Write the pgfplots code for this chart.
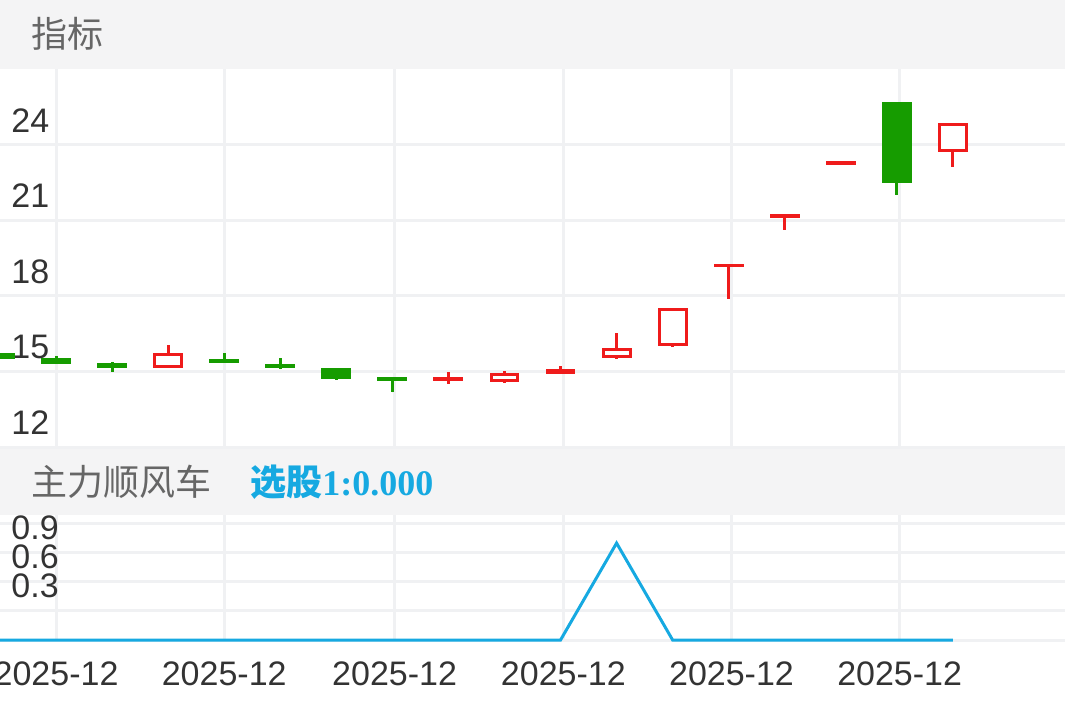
\documentclass[border=0pt]{standalone}
\usepackage{pgfplots}
\pgfplotsset{compat=1.18}
\usepgfplotslibrary{statistics}
\usepackage{fontspec}
\setmainfont{Liberation Sans}
\newfontfamily\cjk{Noto Sans CJK SC}
\newfontfamily\tnr{Liberation Serif}
\definecolor{upred}{HTML}{EF1B1B}
\definecolor{downgreen}{HTML}{169C00}
\definecolor{sigblue}{HTML}{16A9E1}
\definecolor{gridgray}{HTML}{F0F1F3}
\definecolor{bandgray}{HTML}{F4F4F5}
\definecolor{ticktext}{HTML}{333333}
\definecolor{headtext}{HTML}{666666}
\pgfplotsset{
  up/.style={draw=upred, fill=white, line width=1.5pt},
  down/.style={draw=downgreen, fill=downgreen, line width=1.5pt},
}
% position, low, body low, body high, high, style
\newcommand\candle[6]{\addplot[#6, boxplot prepared={draw direction=y, draw position=#1, lower whisker=#2, lower quartile=#3, median=#3, upper quartile=#4, upper whisker=#5, box extend=0.48, whisker extend=0}] coordinates {};}
\begin{document}
\begin{tikzpicture}
\fill[bandgray] (0pt,0pt) rectangle (532.5pt,-34.5pt);
\fill[bandgray] (0pt,-223.5pt) rectangle (532.5pt,-257.5pt);
\node[anchor=base west, inner sep=0pt, text=headtext, font=\cjk\fontsize{18}{20}\selectfont] at (15.5pt,-23.5pt) {指标};
\node[anchor=base west, inner sep=0pt, text=headtext, font=\cjk\fontsize{18}{20}\selectfont] at (15.5pt,-247.5pt) {主力顺风车};
\node[anchor=base west, inner sep=0pt, text=sigblue, font=\fontsize{18}{20}\selectfont\bfseries] at (125pt,-247.5pt) {{\cjk 选股}{\tnr 1:0.000}};
\begin{axis}[
  at={(0pt,-223.5pt)}, anchor=south west,
  width=532.5pt, height=189pt, scale only axis,
  xmin=0, xmax=19, ymin=12, ymax=27,
  xtick={1,4,7.04,10.05,13.05,16.05}, xticklabels={},
  ytick={12,15,18,21,24}, yticklabels={12,15,18,21,24},
  xmajorgrids, ymajorgrids,
  grid style={line width=1.5pt, gridgray},
  major tick length=0pt,
  axis line style={draw=none},
  yticklabel style={anchor=south west, inner sep=0pt, xshift=5.5pt, yshift=6pt, font=\fontsize{17}{17}\selectfont, text=ticktext},
]
\candle{0}{15.55}{15.55}{15.67}{15.67}{down}
\candle{1}{15.34}{15.34}{15.48}{15.62}{down}
\candle{2}{14.99}{15.18}{15.26}{15.38}{down}
\candle{3}{15.18}{15.18}{15.66}{16.05}{up}
\candle{4}{15.38}{15.38}{15.42}{15.72}{down}
\candle{5}{15.08}{15.18}{15.22}{15.52}{down}
\candle{6}{14.66}{14.76}{15.09}{15.09}{down}
\candle{7}{14.17}{14.68}{14.73}{14.73}{down}
\candle{8}{14.50}{14.68}{14.70}{14.99}{up}
\candle{9}{14.53}{14.65}{14.89}{15.03}{up}
\candle{10}{14.96}{14.96}{15.02}{15.21}{up}
\candle{11}{15.49}{15.60}{15.86}{16.51}{up}
\candle{12}{15.98}{16.08}{17.44}{17.44}{up}
\candle{13}{17.87}{19.19}{19.21}{19.21}{up}
\candle{14}{20.61}{21.15}{21.17}{21.17}{up}
\candle{15}{23.27}{23.27}{23.29}{23.29}{up}
\candle{16}{22.00}{22.55}{25.63}{25.63}{down}
\candle{17}{23.12}{23.77}{24.81}{24.81}{up}
\end{axis}
\begin{axis}[
  at={(0pt,-320pt)}, anchor=south west,
  width=532.5pt, height=62.5pt, scale only axis,
  xmin=0, xmax=19, ymin=0, ymax=1.29,
  xtick={1,4,7.04,10.05,13.05,16.05},
  xticklabels={2025-12,2025-12,2025-12,2025-12,2025-12,2025-12},
  ytick={0,0.3,0.6,0.9,1.2}, yticklabels={{},0.3,0.6,0.9,{}},
  xmajorgrids, ymajorgrids,
  grid style={line width=1.5pt, gridgray},
  major tick length=0pt,
  axis line style={draw=none},
  yticklabel style={anchor=south west, inner sep=0pt, xshift=5.5pt, yshift=6.5pt, font=\fontsize{17}{17}\selectfont, text=ticktext},
  xticklabel style={anchor=north, inner sep=0pt, yshift=-10.5pt, font=\fontsize{17}{17}\selectfont, text=ticktext},
  clip=false,
]
\addplot[sigblue, line width=1.5pt] coordinates {(0,0) (1,0) (2,0) (3,0) (4,0) (5,0) (6,0) (7,0) (8,0) (9,0) (10,0) (11,1) (12,0) (13,0) (14,0) (15,0) (16,0) (17,0)};
\end{axis}
\pgfresetboundingbox
\path[use as bounding box] (0pt,0pt) rectangle (532.5pt,-354pt);
\end{tikzpicture}
\end{document}
